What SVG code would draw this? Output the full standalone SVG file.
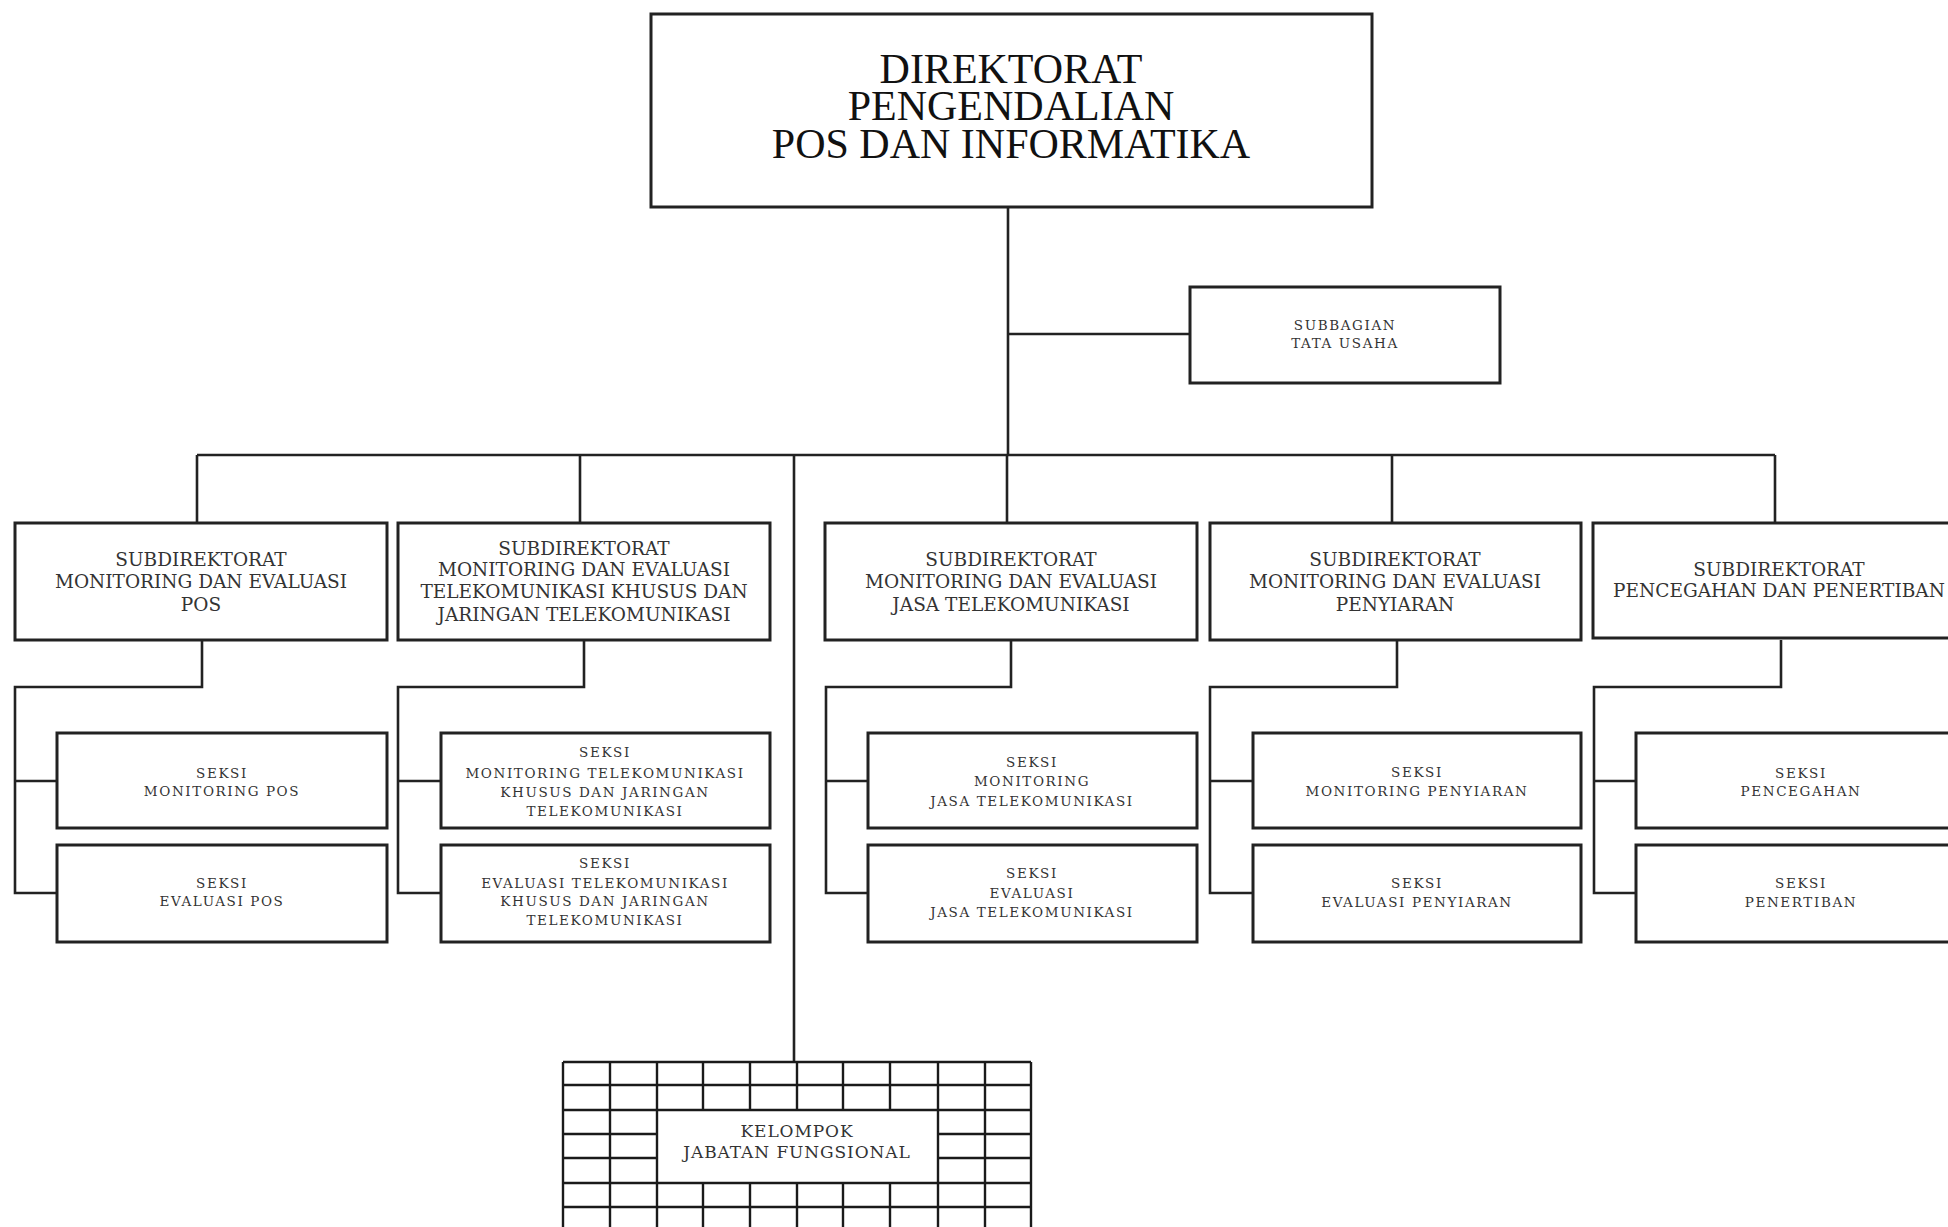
<svg xmlns="http://www.w3.org/2000/svg" width="1948" height="1227" viewBox="0 0 1948 1227">
<style>
.box{fill:#fff;stroke:#222;stroke-width:3}
.ln{fill:none;stroke:#222;stroke-width:2.6}
.grid{fill:none;stroke:#1a1a1a;stroke-width:2.4}
text{text-anchor:middle}
.tt{font-family:"Liberation Serif","Times New Roman",serif;font-size:42px;fill:#111}
.ts{font-family:"DejaVu Serif","Liberation Serif",serif;font-size:18.5px;fill:#333}
.tk{font-family:"DejaVu Serif","Liberation Serif",serif;font-size:13.5px;letter-spacing:1.6px;fill:#333}
.tg{font-family:"DejaVu Serif","Liberation Serif",serif;font-size:17px;letter-spacing:0.9px;fill:#333}
</style>
<rect width="1948" height="1227" fill="#fff"/>

<g id="connectors">
<path class="ln" d="M1008 207V455M1008 334H1190"/>
<path class="ln" d="M197 455H1775M197 455V523M580 455V523M1007 455V523M1392 455V523M1775 455V523M794 455V1062"/>
<path class="ln" d="M202 640V687H15V893H57M15 781H57"/>
<path class="ln" d="M584 640V687H398V893H441M398 781H441"/>
<path class="ln" d="M1011 640V687H826V893H868M826 781H868"/>
<path class="ln" d="M1397 640V687H1210V893H1253M1210 781H1253"/>
<path class="ln" d="M1781 640V687H1594V893H1636M1594 781H1636"/>
</g>

<g id="direktorat">
<rect class="box" x="651" y="14" width="721" height="193"/>
<text class="tt" x="1011" y="83">DIREKTORAT</text>
<text class="tt" x="1011" y="120">PENGENDALIAN</text>
<text class="tt" x="1011" y="158">POS DAN INFORMATIKA</text>
</g>

<g id="subbagian">
<rect class="box" x="1190" y="287" width="310" height="96"/>
<text class="tk" x="1345" y="330">SUBBAGIAN</text>
<text class="tk" x="1345" y="348">TATA USAHA</text>
</g>

<g id="subdit-pos">
<rect class="box" x="15" y="523" width="372" height="117"/>
<text class="ts" x="201" y="566">SUBDIREKTORAT</text>
<text class="ts" x="201" y="588">MONITORING DAN EVALUASI</text>
<text class="ts" x="201" y="611">POS</text>
</g>
<g id="subdit-telsus">
<rect class="box" x="398" y="523" width="372" height="117"/>
<text class="ts" x="584" y="555">SUBDIREKTORAT</text>
<text class="ts" x="584" y="576">MONITORING DAN EVALUASI</text>
<text class="ts" x="584" y="598">TELEKOMUNIKASI KHUSUS DAN</text>
<text class="ts" x="584" y="621">JARINGAN TELEKOMUNIKASI</text>
</g>
<g id="subdit-jasa">
<rect class="box" x="825" y="523" width="372" height="117"/>
<text class="ts" x="1011" y="566">SUBDIREKTORAT</text>
<text class="ts" x="1011" y="588">MONITORING DAN EVALUASI</text>
<text class="ts" x="1011" y="611">JASA TELEKOMUNIKASI</text>
</g>
<g id="subdit-penyiaran">
<rect class="box" x="1210" y="523" width="371" height="117"/>
<text class="ts" x="1395" y="566">SUBDIREKTORAT</text>
<text class="ts" x="1395" y="588">MONITORING DAN EVALUASI</text>
<text class="ts" x="1395" y="611">PENYIARAN</text>
</g>
<g id="subdit-pencegahan">
<rect class="box" x="1593" y="523" width="372" height="115"/>
<text class="ts" x="1779" y="576">SUBDIREKTORAT</text>
<text class="ts" x="1779" y="597">PENCEGAHAN DAN PENERTIBAN</text>
</g>

<g id="seksi-mon-pos">
<rect class="box" x="57" y="733" width="330" height="95"/>
<text class="tk" x="222" y="778">SEKSI</text>
<text class="tk" x="222" y="796">MONITORING POS</text>
</g>
<g id="seksi-eval-pos">
<rect class="box" x="57" y="845" width="330" height="97"/>
<text class="tk" x="222" y="888">SEKSI</text>
<text class="tk" x="222" y="906">EVALUASI POS</text>
</g>
<g id="seksi-mon-telsus">
<rect class="box" x="441" y="733" width="329" height="95"/>
<text class="tk" x="605" y="757">SEKSI</text>
<text class="tk" x="605" y="778">MONITORING TELEKOMUNIKASI</text>
<text class="tk" x="605" y="797">KHUSUS DAN JARINGAN</text>
<text class="tk" x="605" y="816">TELEKOMUNIKASI</text>
</g>
<g id="seksi-eval-telsus">
<rect class="box" x="441" y="845" width="329" height="97"/>
<text class="tk" x="605" y="868">SEKSI</text>
<text class="tk" x="605" y="888">EVALUASI TELEKOMUNIKASI</text>
<text class="tk" x="605" y="906">KHUSUS DAN JARINGAN</text>
<text class="tk" x="605" y="925">TELEKOMUNIKASI</text>
</g>
<g id="seksi-mon-jasa">
<rect class="box" x="868" y="733" width="329" height="95"/>
<text class="tk" x="1032" y="767">SEKSI</text>
<text class="tk" x="1032" y="786">MONITORING</text>
<text class="tk" x="1032" y="806">JASA TELEKOMUNIKASI</text>
</g>
<g id="seksi-eval-jasa">
<rect class="box" x="868" y="845" width="329" height="97"/>
<text class="tk" x="1032" y="878">SEKSI</text>
<text class="tk" x="1032" y="898">EVALUASI</text>
<text class="tk" x="1032" y="917">JASA TELEKOMUNIKASI</text>
</g>
<g id="seksi-mon-penyiaran">
<rect class="box" x="1253" y="733" width="328" height="95"/>
<text class="tk" x="1417" y="777">SEKSI</text>
<text class="tk" x="1417" y="796">MONITORING PENYIARAN</text>
</g>
<g id="seksi-eval-penyiaran">
<rect class="box" x="1253" y="845" width="328" height="97"/>
<text class="tk" x="1417" y="888">SEKSI</text>
<text class="tk" x="1417" y="907">EVALUASI PENYIARAN</text>
</g>
<g id="seksi-pencegahan">
<rect class="box" x="1636" y="733" width="330" height="95"/>
<text class="tk" x="1801" y="778">SEKSI</text>
<text class="tk" x="1801" y="796">PENCEGAHAN</text>
</g>
<g id="seksi-penertiban">
<rect class="box" x="1636" y="845" width="330" height="97"/>
<text class="tk" x="1801" y="888">SEKSI</text>
<text class="tk" x="1801" y="907">PENERTIBAN</text>
</g>

<g id="kelompok-jabatan-fungsional">
<path class="grid" d="M563 1062V1240M610 1062V1240M657 1062V1240M938 1062V1240M985 1062V1240M1031 1062V1240
M703 1062V1110M750 1062V1110M797 1062V1110M843 1062V1110M890 1062V1110
M703 1183V1240M750 1183V1240M797 1183V1240M843 1183V1240M890 1183V1240
M563 1062H1031M563 1085H1031M563 1110H1031M563 1183H1031M563 1207H1031
M563 1134H657M563 1158H657M938 1134H1031M938 1158H1031"/>
<text class="tg" x="797" y="1137">KELOMPOK</text>
<text class="tg" x="797" y="1158">JABATAN FUNGSIONAL</text>
</g>
</svg>
